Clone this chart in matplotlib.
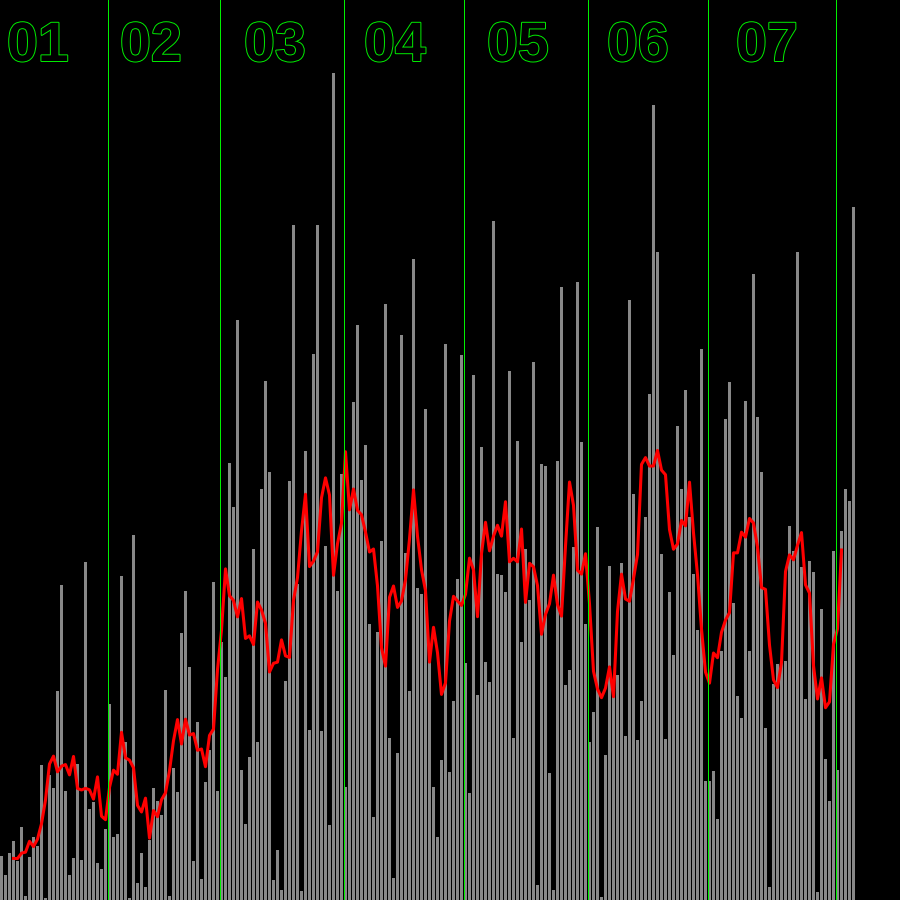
import matplotlib
matplotlib.use("Agg")
import matplotlib.pyplot as plt
import matplotlib.patheffects as pe
import numpy as np
import pandas as pd

# daily counts (one bar per day)
counts = [
    44, 25, 47, 59, 39, 73, 4, 43, 63, 54,
    135, 2, 125, 112, 209, 315, 109, 25, 42, 136,
    40, 338, 91, 98, 37, 31, 71, 196, 63, 66,
    324, 158, 2, 365, 17, 47, 13, 60, 112, 99,
    85, 210, 4, 132, 108, 267, 309, 233, 39, 178,
    21, 118, 150, 318, 109, 258, 223, 437, 393, 580,
    130, 76, 143, 351, 158, 411, 519, 428, 20, 50,
    10, 219, 419, 675, 316, 9, 449, 170, 546, 675,
    169, 354, 75, 827, 309, 426, 113, 390, 498, 575,
    420, 455, 276, 83, 268, 359, 596, 162, 22, 147,
    565, 347, 209, 641, 312, 306, 491, 240, 113, 63,
    140, 556, 128, 199, 321, 545, 237, 107, 525, 205,
    453, 238, 218, 679, 326, 325, 308, 529, 162, 459,
    258, 351, 300, 538, 15, 436, 434, 127, 10, 439,
    613, 215, 230, 353, 618, 458, 276, 158, 188, 373,
    3, 145, 334, 215, 225, 337, 164, 600, 406, 160,
    199, 383, 506, 795, 648, 346, 161, 308, 245, 474,
    411, 510, 383, 326, 270, 551, 119, 119, 129, 81,
    249, 481, 518, 297, 204, 182, 499, 249, 626, 483,
    428, 172, 13, 216, 236, 237, 239, 374, 349, 648,
    333, 201, 339, 328, 8, 291, 141, 99, 349, 130,
    369, 411, 399, 693,
]

# index of the first day of each month
month_starts = [27, 55, 86, 116, 147, 177, 209]
month_labels = ["01", "02", "03", "04", "05", "06", "07"]

GREEN = "#00f000"
DPI = 100

days = np.arange(len(counts))
smooth = pd.Series(counts, dtype=float).rolling(7, center=True).mean()

fig = plt.figure(figsize=(9, 9), dpi=DPI, facecolor="black")
ax = fig.add_axes([0, 0, 1, 1])
ax.set_facecolor("black")

ax.bar(days, counts, width=0.75, align="edge", color="#888888", linewidth=0)
ax.plot(days + 0.375, smooth, color="#ff0000", linewidth=2.2)

for m in month_starts:
    ax.axvline(m - 0.125, color=GREEN, linewidth=0.72, antialiased=False)

# label left edges in pixels
label_left_px = [7, 120, 244, 364, 487, 607, 736]
for lab, px in zip(month_labels, label_left_px):
    ax.text(px / 4, 1 - 61 / 900, lab, transform=ax.get_xaxis_transform(),
            ha="left", va="baseline", fontsize=40, color="black",
            family="Liberation Sans", fontweight="bold",
            path_effects=[pe.withStroke(linewidth=1.4, foreground=GREEN)])

ax.set_xlim(0, 225)
ax.set_ylim(0, 900)
ax.axis("off")

fig.savefig("out.png", dpi=DPI, facecolor="black")
